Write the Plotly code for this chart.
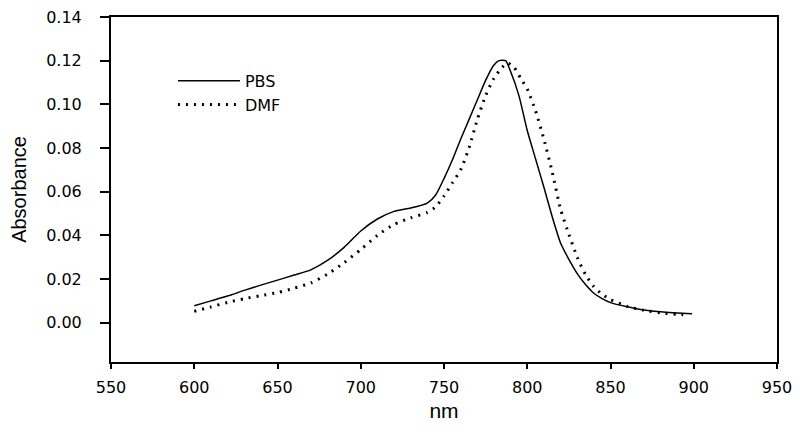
import plotly.graph_objects as go

# PBS spectrum (solid line)
pbs_nm = [600, 610, 620, 630, 640, 650, 660, 670, 680, 690, 700, 710, 720, 730, 740,
          745, 750, 755, 760, 765, 770, 775, 780, 783, 787, 790, 795, 800, 805, 810,
          815, 820, 825, 830, 835, 840, 845, 850, 860, 870, 880, 890, 899]
pbs_abs = [0.0078, 0.0100, 0.0122, 0.0148, 0.0172, 0.0195, 0.0218, 0.0242, 0.0285, 0.0345,
           0.0420, 0.0475, 0.0510, 0.0525, 0.0548, 0.0585, 0.0660, 0.0745, 0.0840, 0.0930,
           0.1020, 0.1110, 0.1180, 0.1200, 0.1200, 0.1150, 0.1040, 0.0880, 0.0750, 0.0620,
           0.0485, 0.0365, 0.0290, 0.0225, 0.0175, 0.0135, 0.0110, 0.0092, 0.0073, 0.0058,
           0.0050, 0.0044, 0.0041]

# DMF spectrum (dotted "+" line)
dmf_nm = [600, 610, 620, 630, 640, 650, 660, 670, 680, 690, 700, 710, 720, 730, 740,
          745, 750, 755, 760, 765, 770, 775, 780, 785, 788, 792, 796, 800, 805, 810,
          815, 820, 825, 830, 835, 840, 845, 850, 860, 870, 880, 890, 896]
dmf_abs = [0.0052, 0.0072, 0.0093, 0.0110, 0.0124, 0.0138, 0.0158, 0.0182, 0.0222, 0.0275,
           0.0335, 0.0400, 0.0450, 0.0480, 0.0505, 0.0530, 0.0580, 0.0640, 0.0700, 0.0800,
           0.0930, 0.1040, 0.1120, 0.1170, 0.1190, 0.1170, 0.1120, 0.1070, 0.0970, 0.0840,
           0.0690, 0.0520, 0.0405, 0.0300, 0.0220, 0.0165, 0.0130, 0.0106, 0.0075, 0.0057,
           0.0045, 0.0038, 0.0036]

x_ticks = [550, 600, 650, 700, 750, 800, 850, 900, 950]
y_ticks = [0.00, 0.02, 0.04, 0.06, 0.08, 0.10, 0.12, 0.14]
y_tick_labels = ["0.00", "0.02", "0.04", "0.06", "0.08", "0.10", "0.12", "0.14"]

FONT = "Liberation Sans, Arial, sans-serif"
TICKFONT = "DejaVu Sans, sans-serif"

fig = go.Figure()
fig.add_trace(go.Scatter(x=pbs_nm, y=pbs_abs, mode="lines", name="PBS",
                         legendgroup="a",
                         line=dict(color="black", width=1.5, shape="spline", smoothing=0.6)))
fig.add_trace(go.Scatter(x=dmf_nm, y=dmf_abs, mode="lines", name="DMF",
                         legendgroup="b",
                         line=dict(color="black", width=3, dash="2px,6px",
                                   shape="spline", smoothing=0.6)))

# page body has an 8px margin, so the figure is sized to fit the window
fig.update_layout(
    width=792, height=426,
    margin=dict(l=103, r=23, t=9, b=72),
    paper_bgcolor="white", plot_bgcolor="white",
    font=dict(family=FONT, size=17, color="black"),
    showlegend=True,
    legend=dict(x=0.093, y=0.864, xanchor="left", yanchor="top",
                bgcolor="rgba(0,0,0,0)", font=dict(family=TICKFONT, size=16),
                itemwidth=62, tracegroupgap=0, traceorder="normal"),
    xaxis=dict(range=[550, 950], tickvals=x_ticks, ticks="outside", ticklen=5,
               tickwidth=1.5, tickcolor="black", showline=True, linecolor="black",
               linewidth=1.5, mirror=True, showgrid=False, zeroline=False,
               automargin=False, ticklabelstandoff=5, ticklabeloverflow="allow",
               title=dict(text="nm", font=dict(family=FONT, size=21), standoff=7),
               tickfont=dict(family=TICKFONT, size=16)),
    yaxis=dict(range=[-0.018, 0.14], tickvals=y_ticks, ticktext=y_tick_labels,
               ticks="outside", ticklen=9, tickwidth=2, tickcolor="black",
               showline=True, linecolor="black", linewidth=2, mirror=True,
               showgrid=False, zeroline=False, ticklabelstandoff=15,
               automargin=False, ticklabeloverflow="allow",
               title=dict(text="Absorbance", font=dict(family=FONT, size=20), standoff=22),
               tickfont=dict(family=TICKFONT, size=16)),
)

fig.write_html("out.html")
